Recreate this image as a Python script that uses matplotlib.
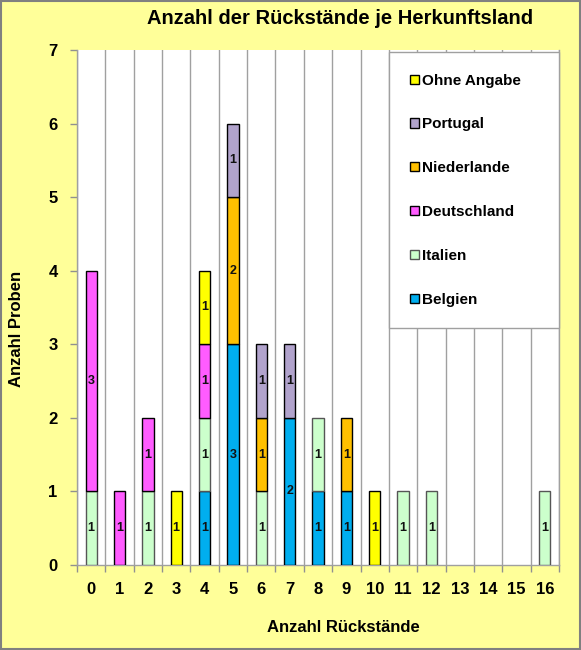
import numpy as np
import matplotlib.pyplot as plt
from matplotlib.ticker import FixedLocator, NullFormatter

# Daten
kategorien = list(range(17))
belgien = [0, 0, 0, 0, 1, 3, 0, 2, 1, 1, 0, 0, 0, 0, 0, 0, 0]
italien = [1, 0, 1, 0, 1, 0, 1, 0, 1, 0, 0, 1, 1, 0, 0, 0, 1]
deutschland = [3, 1, 1, 0, 1, 0, 0, 0, 0, 0, 0, 0, 0, 0, 0, 0, 0]
niederlande = [0, 0, 0, 0, 0, 2, 1, 0, 0, 1, 0, 0, 0, 0, 0, 0, 0]
portugal = [0, 0, 0, 0, 0, 1, 1, 1, 0, 0, 0, 0, 0, 0, 0, 0, 0]
ohne_angabe = [0, 0, 0, 1, 1, 0, 0, 0, 0, 0, 1, 0, 0, 0, 0, 0, 0]

serien = [
    ("Belgien", belgien, "#00AEEF"),
    ("Italien", italien, "#CCFFCC"),
    ("Deutschland", deutschland, "#FF5CFF"),
    ("Niederlande", niederlande, "#FFC000"),
    ("Portugal", portugal, "#B1A3CC"),
    ("Ohne Angabe", ohne_angabe, "#FFFF00"),
]

plt.rcParams['font.family'] = ['Liberation Sans', 'DejaVu Sans']

fig = plt.figure(figsize=(5.81, 6.5), dpi=100, facecolor="#FFFF99")
ax = fig.add_axes([77 / 581, 85 / 650, 482 / 581, 515 / 650])
ax.set_facecolor("white")

x = np.array(kategorien)
unten = np.zeros(len(x))
handles = []
for name, werte, farbe in serien:
    werte = np.array(werte, dtype=float)
    kante = "#555555" if name == "Italien" else "black"
    maske = werte > 0
    bars = ax.bar(x[maske], werte[maske], width=0.4, bottom=unten[maske], color=farbe,
                  edgecolor=kante, linewidth=1.0, label=name, zorder=3)
    for xi, b, w in zip(x[maske], unten[maske], werte[maske]):
        ax.text(xi, b + w / 2, f"{int(w)}", ha="center", va="center",
                fontsize=9, fontweight="bold", color="#111111", zorder=4)
    handles.append(bars)
    unten = unten + werte

ax.set_xlim(-0.5, 16.5)
ax.set_ylim(0, 7)

# Gitterlinien zwischen den Kategorien
grenzen = np.arange(-0.5, 17.0, 1.0)
ax.xaxis.set_major_locator(FixedLocator(x))
ax.xaxis.set_minor_locator(FixedLocator(grenzen))
ax.xaxis.set_minor_formatter(NullFormatter())
ax.tick_params(axis="x", which="major", length=0, pad=12, labelsize=12)
ax.tick_params(axis="x", which="minor", length=5, color="#909090", width=1)
ax.grid(True, axis="x", which="minor", color="#A0A0A0", linewidth=1, zorder=1)
ax.set_yticks(range(8))
ax.tick_params(axis="y", length=5, color="#909090", width=1, pad=9, labelsize=12)
for lbl in ax.get_xticklabels() + ax.get_yticklabels():
    lbl.set_fontweight("bold")

ax.spines["top"].set_visible(False)
for s in ["left", "bottom", "right"]:
    ax.spines[s].set_color("#A0A0A0")
    ax.spines[s].set_linewidth(1)

leg = ax.legend(handles=handles[::-1], loc="center left",
                bbox_to_anchor=(0.647, 0.466, 0.353, 0.524), mode="expand",
                frameon=True, fancybox=False, framealpha=1, edgecolor="#A0A0A0",
                prop={"weight": "bold", "size": 11}, labelspacing=1.95,
                handlelength=0.55, handleheight=0.55, handletextpad=0.25,
                borderpad=1.4, borderaxespad=0)
leg.set_zorder(5)
leg.get_frame().set_linewidth(1)

fig.text(340 / 581, 1 - 18 / 650, "Anzahl der Rückstände je Herkunftsland",
         ha="center", va="center", fontsize=14.5, fontweight="bold")
fig.text(343 / 581, 1 - 627 / 650, "Anzahl Rückstände", ha="center", va="center",
         fontsize=12, fontweight="bold")
fig.text(17 / 581, 1 - 329 / 650, "Anzahl Proben", ha="center", va="center",
         rotation=90, fontsize=12, fontweight="bold")

# Rahmen um die Grafik
fig.patches.append(plt.Rectangle((0.001, 0.001), 0.998, 0.998, transform=fig.transFigure,
                                 fill=False, edgecolor="#808080", linewidth=1.5))

fig.savefig("out.png", dpi=100, facecolor=fig.get_facecolor())
